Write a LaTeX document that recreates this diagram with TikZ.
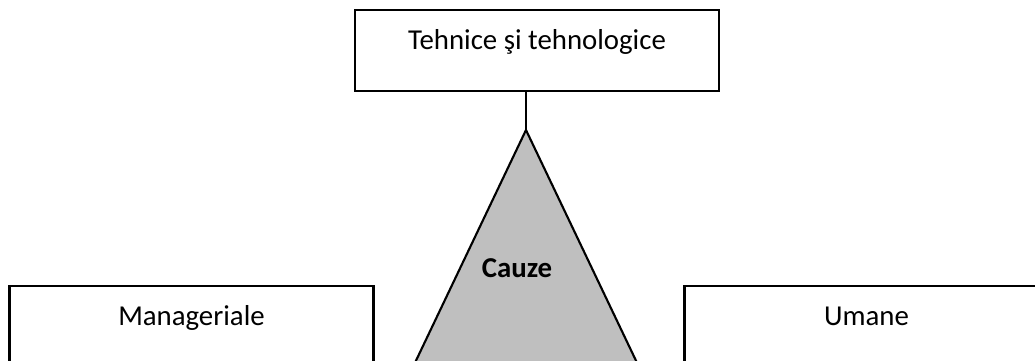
\documentclass[tikz,border=0pt]{standalone}
\usepackage{fontspec}
\setmainfont{Carlito}
\usepackage{tikz}
\usetikzlibrary{positioning, calc}

\begin{document}
\begin{tikzpicture}[>=latex, line width=0.6pt]

                \tikzset{% This is the style settings for the boxes
                    causebox/.style={draw,fill=white,minimum width=3.64cm,minimum height=0.81cm,
                                        inner sep=0pt,text height=5.7pt,text depth=6.4pt,
                                        font=\fontsize{8.2}{10}\selectfont},
                    wedge/.style={draw,fill=gray!50}}

                    \useasboundingbox (0,0) rectangle (10.35,3.6);
                    \clip (0,0) rectangle (10.35,3.6);

                    \node [causebox](c_teh) at (5.37,3.095) {Tehnice şi tehnologice};
                    \node [causebox](c_man) at (1.915,0.335) {Manageriale};
                    \node [causebox](c_uma) at (8.665,0.335) {Umane};

                    \coordinate (apex) at (5.26,2.30);
                    \draw [wedge] (apex) -- ($(apex)+(-1.24,-2.6)$) -- ($(apex)+(1.24,-2.6)$) -- cycle;
                    \node [font=\bfseries\fontsize{8.2}{10}\selectfont](cauze) at (5.17,0.92) {Cauze};

                    \draw (c_teh.south -| apex) -- (apex);

            \end{tikzpicture}
\end{document}
